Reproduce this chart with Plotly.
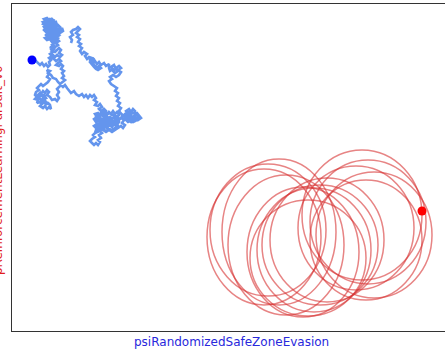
import plotly.graph_objects as go

# Evader: random-walk trajectory, stored in pieces (x, y in plot units; y axis runs downward)
seg_tail = [(32, 60), (34, 62), (36, 61), (38, 63), (40, 65), (42, 63), (44, 66), (46, 64), (48, 67),
            (50, 65), (49, 62), (51, 60), (49, 58), (52, 56), (50, 54), (53, 52), (51, 49), (54, 47),
            (52, 45), (55, 43)]
seg_upper_fill = [(57, 41), (55, 40), (58, 38), (56, 36), (59, 35), (57, 33), (60, 32), (58, 30),
                  (55, 31), (53, 29), (55, 27), (52, 26), (50, 28), (48, 26), (50, 24), (47, 23),
                  (45, 25), (43, 24), (45, 21), (48, 21), (50, 19), (53, 20), (51, 22), (54, 23),
                  (56, 22), (57, 25), (55, 26), (57, 28), (54, 29), (52, 31), (50, 30), (48, 29),
                  (46, 28), (44, 30), (46, 32), (48, 31), (50, 33), (52, 33), (54, 32), (56, 33),
                  (54, 35), (52, 36), (50, 35), (48, 36), (50, 38), (52, 39), (50, 41), (53, 40),
                  (55, 42)]
seg_upper = [(53, 41), (55, 39), (52, 37), (54, 35), (51, 35), (49, 37), (50, 33), (47, 31), (49, 29),
             (46, 30), (44, 27), (47, 26), (45, 24), (43, 22), (46, 21), (44, 19), (47, 18), (49, 20),
             (46, 22), (48, 24), (50, 22), (52, 19), (54, 21), (52, 23), (55, 24), (53, 26), (51, 25),
             (49, 27), (52, 28), (54, 30), (56, 27), (58, 25), (60, 27), (58, 29), (61, 30), (62, 28),
             (63, 31), (60, 33), (58, 32), (56, 34), (58, 36), (55, 37), (53, 34), (51, 31), (48, 33),
             (46, 35), (48, 37), (45, 38), (47, 40), (50, 39), (52, 42), (55, 41), (57, 39), (59, 41),
             (56, 43), (58, 45), (55, 47), (53, 45), (51, 47), (54, 49), (52, 51), (55, 52), (57, 50),
             (59, 48), (61, 50), (59, 53), (62, 55), (60, 57), (57, 55), (55, 57), (53, 55), (51, 57),
             (54, 59), (56, 61), (59, 59), (61, 61), (58, 63), (56, 65), (59, 66), (61, 64), (63, 66),
             (61, 69), (64, 71), (62, 73), (64, 76), (62, 78), (65, 80), (63, 82)]
seg_left = [(60, 84), (58, 82), (56, 79), (53, 78), (51, 75), (48, 73), (50, 71), (47, 70), (49, 74),
            (47, 77), (50, 79), (48, 82), (46, 84), (43, 86), (41, 84), (39, 86), (37, 88), (39, 90),
            (36, 92), (35, 95), (37, 97), (35, 99), (38, 100), (37, 103), (40, 102), (42, 104), (40, 106),
            (43, 108), (45, 106), (47, 109), (49, 107), (51, 109), (50, 105), (48, 103), (45, 102),
            (43, 99), (46, 98), (44, 95), (41, 96), (40, 93), (38, 95), (40, 98), (38, 97), (41, 100),
            (43, 102), (45, 104), (47, 105), (45, 100), (43, 97), (41, 94), (43, 91), (45, 93), (47, 90),
            (49, 92), (47, 95), (50, 97), (52, 100), (55, 99), (57, 101), (59, 98), (57, 95), (59, 92),
            (57, 89), (59, 87), (61, 85), (63, 87), (65, 85), (67, 88)]
seg_mid = [(69, 90), (71, 93), (74, 91), (76, 94), (79, 96), (82, 94), (84, 97), (86, 95), (88, 98),
           (90, 95), (92, 97), (94, 95), (96, 98), (94, 100), (97, 102), (95, 105)]
seg_center = [(98, 106), (100, 104), (102, 107), (99, 109), (101, 111), (104, 109), (106, 111),
              (104, 113), (107, 115), (109, 112), (111, 114), (113, 111), (115, 114), (117, 112),
              (119, 115), (117, 117), (120, 119), (118, 121), (115, 120), (113, 122), (110, 120),
              (108, 123), (105, 121), (103, 124), (100, 122), (98, 125), (96, 122), (94, 119),
              (97, 117), (95, 114), (98, 113), (100, 116), (102, 114), (105, 117), (107, 119),
              (110, 117), (112, 119), (114, 117), (116, 119), (119, 122), (117, 125), (114, 124),
              (112, 127), (109, 125), (107, 128), (104, 126), (101, 128), (99, 126), (96, 128),
              (94, 126), (97, 124), (100, 125), (103, 122), (106, 124), (108, 121), (111, 123),
              (113, 125), (116, 123), (118, 126), (115, 128), (112, 130), (109, 129), (106, 131),
              (103, 129), (100, 131), (97, 130), (95, 133)]
seg_center_fill = [(97, 127), (99, 129), (101, 126), (103, 127), (105, 125), (107, 126), (109, 124),
                   (111, 126), (113, 123), (115, 125), (117, 122), (115, 121), (112, 121), (110, 122),
                   (108, 119), (106, 120), (104, 118), (102, 119), (100, 118), (98, 119), (96, 117),
                   (98, 115), (100, 113), (102, 112), (104, 111), (106, 113), (108, 114), (110, 113),
                   (112, 115), (114, 115), (116, 116), (118, 118), (116, 118), (113, 118), (111, 118),
                   (109, 118), (107, 117), (105, 115), (103, 116), (101, 115), (99, 117), (97, 119),
                   (96, 121), (98, 121), (100, 120), (102, 121), (104, 120), (106, 122), (108, 126),
                   (106, 127), (104, 128), (102, 130), (99, 131), (97, 132), (95, 133)]
seg_bottom = [(93, 135), (95, 137), (92, 139), (90, 141), (92, 143), (94, 145), (96, 143), (98, 145),
              (100, 142), (98, 140), (101, 138), (99, 135), (102, 133), (100, 131), (103, 130)]
seg_right = [(106, 132), (109, 130), (112, 132), (115, 130), (118, 128), (121, 126), (123, 128),
             (125, 125), (122, 123), (124, 120), (121, 118), (123, 115), (126, 117), (128, 114),
             (126, 111), (129, 109), (131, 112), (133, 109), (135, 111), (134, 114), (137, 113),
             (139, 116), (141, 118), (138, 120), (136, 118), (133, 120), (131, 122), (128, 120),
             (130, 117), (127, 119), (125, 118), (127, 116), (130, 115), (132, 117), (134, 116),
             (136, 115), (135, 118), (133, 118), (130, 119), (128, 118), (126, 120), (128, 122),
             (130, 121), (133, 122), (135, 121), (137, 120), (139, 118), (138, 116), (136, 114),
             (133, 113), (131, 114), (129, 112), (127, 113), (125, 114), (124, 117), (121, 114),
             (119, 111), (121, 108), (118, 106), (120, 103), (117, 101), (119, 98), (116, 96),
             (118, 93), (115, 91), (117, 88)]
seg_branch = [(114, 86), (111, 84), (109, 81), (112, 79), (110, 77), (113, 75), (116, 77), (119, 75),
              (121, 72), (118, 70), (121, 68), (119, 66), (116, 68), (118, 71), (115, 73), (113, 71),
              (116, 69), (114, 65), (111, 67), (113, 69), (110, 71), (109, 68), (109, 64), (106, 66),
              (104, 63), (101, 65), (99, 62), (97, 64), (95, 61), (93, 64), (95, 66), (97, 68),
              (99, 66), (101, 68), (98, 70), (96, 69), (94, 67), (92, 65), (90, 62), (92, 60),
              (94, 58), (92, 63), (90, 60), (92, 58), (89, 57), (87, 59), (85, 56), (87, 54),
              (84, 52), (82, 54), (80, 51), (82, 48), (79, 46), (81, 44), (78, 42), (80, 39),
              (77, 37), (79, 35), (76, 33), (78, 31), (80, 29), (78, 27), (76, 29), (73, 30),
              (71, 32), (73, 35), (70, 37), (72, 40), (71, 43)]

# Pursuer: looping orbits (centre x, centre y, half-width, half-height)
loop_cx = [264, 268, 279, 286, 303, 308, 314, 320, 327, 356, 362, 368, 374, 366]
loop_cy = [237, 230, 232, 245, 252, 258, 250, 245, 240, 228, 215, 222, 235, 240]
loop_rx = [57, 58, 57, 58, 56, 58, 57, 58, 57, 58, 60, 58, 58, 56]
loop_ry = [68, 66, 73, 70, 65, 58, 62, 60, 62, 62, 65, 62, 63, 60]

# Current positions of the two agents
evader_pos = (32, 60)
pursuer_pos = (422, 211)

walk = (seg_tail + seg_upper_fill + seg_upper + seg_left + seg_mid + seg_center
        + seg_center_fill + seg_bottom + seg_right + seg_branch)
walk_x = [p[0] for p in walk]
walk_y = [p[1] for p in walk]

fig = go.Figure()

fig.add_trace(go.Scatter(
    x=walk_x, y=walk_y, mode="lines",
    line=dict(color="#6495ED", width=2.6), hoverinfo="skip", showlegend=False,
))

for cx, cy, rx, ry in zip(loop_cx, loop_cy, loop_rx, loop_ry):
    fig.add_shape(
        type="circle", xref="x", yref="y",
        x0=cx - rx, x1=cx + rx, y0=cy - ry, y1=cy + ry,
        line=dict(color="rgba(215,50,50,0.6)", width=1.5),
        layer="below",
    )

fig.add_trace(go.Scatter(
    x=[evader_pos[0]], y=[evader_pos[1]], mode="markers",
    marker=dict(color="blue", size=9), showlegend=False,
))
fig.add_trace(go.Scatter(
    x=[pursuer_pos[0]], y=[pursuer_pos[1]], mode="markers",
    marker=dict(color="red", size=9), showlegend=False,
))

axis_common = dict(showticklabels=False, ticks="", showgrid=False, zeroline=False,
                   showline=True, linecolor="#333", linewidth=1)
fig.update_xaxes(range=[12, 445], mirror=True, **axis_common)
fig.update_yaxes(range=[331, 4], **axis_common)

fig.add_annotation(
    text="psiRandomizedSafeZoneEvasion", xref="paper", yref="paper",
    x=0.5058, y=-0.0336, xanchor="center", yanchor="middle", showarrow=False,
    font=dict(family="DejaVu Sans", size=12, color="rgb(40,40,220)"),
)
fig.add_annotation(
    text="pReinforcementLearningPursuit_v0", xref="paper", yref="paper",
    x=-0.0323, y=0.4924, xanchor="center", yanchor="middle", showarrow=False,
    textangle=-90,
    font=dict(family="DejaVu Sans", size=12, color="rgb(225,30,30)"),
)

fig.update_layout(
    width=445, height=355,
    margin=dict(l=12, r=0, t=4, b=24),
    paper_bgcolor="white", plot_bgcolor="white",
)

fig.write_html("out.html")
